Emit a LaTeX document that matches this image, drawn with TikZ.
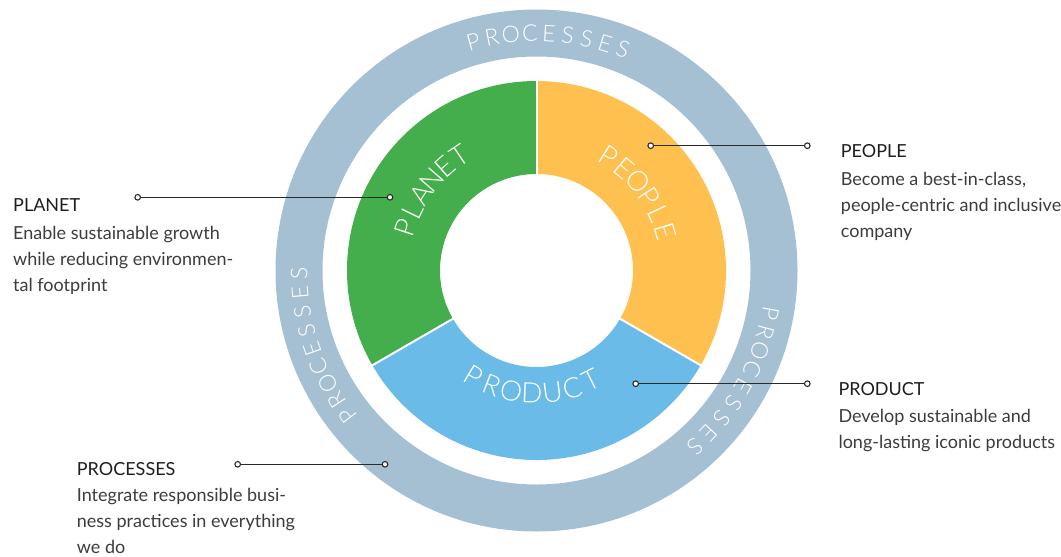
\documentclass[tikz,border=0pt]{standalone}
\usepackage{fontspec}
\setmainfont{Lato}
\IfFontExistsTF{Lato Light}{\newfontfamily\thinfont{Lato Light}}{\newfontfamily\thinfont{Lato}}

\definecolor{ringblue}{HTML}{A6C0D3}
\definecolor{planetgreen}{HTML}{43AE4B}
\definecolor{peopleyellow}{HTML}{FEC150}
\definecolor{productblue}{HTML}{6BBBE8}
\definecolor{headink}{HTML}{1E1E1E}
\definecolor{bodyink}{HTML}{3C3C3C}
\definecolor{lineink}{HTML}{2A2A2A}

% place the letters of a word one by one along a circle
% #1 name prefix, #2 letters, #3 number of letters, #4 centre angle,
% #5 angular step (positive: clockwise, tops outward; negative: counter-clockwise, tops inward),
% #6 radius, #7 node style
\newcommand\arcword[7]{%
  \foreach \ch [count=\i from 0] in {#2} {%
    \pgfmathsetmacro\ang{#4+((#3-1)/2-\i)*#5}%
    \pgfmathsetmacro\rot{\ang-90*sign(#5)}%
    \node[#7, rotate=\rot] (#1\i) at (\ang:#6) {\ch};
  }}

\begin{document}
\begin{tikzpicture}[x=1pt, y=-1pt,
  ringletter/.style={inner sep=0pt, text=white, font=\thinfont\fontsize{23}{23}\selectfont},
  segletter/.style={inner sep=0pt, text=white, font=\thinfont\fontsize{28}{28}\selectfont},
  head/.style={anchor=base west, inner sep=0pt, text=headink, font=\fontsize{18}{26}\selectfont},
  body/.style={anchor=base west, inner sep=0pt, align=left, text=bodyink, font=\fontsize{18}{26}\selectfont},
  dot/.style={circle, draw=lineink, fill=white, line width=1.1pt, minimum size=5.6pt, inner sep=0pt},
  conn/.style={draw=lineink, line width=1.2pt}]
\useasboundingbox (0,0) rectangle (1061,557);

\begin{scope}[shift={(536.5,270.5)}, y=1pt]
  % outer processes band
  \draw[ringblue, line width=47pt] (0,0) circle[radius=237.5];
  % three sectors of the inner donut
  \fill[planetgreen] (90:189.5) arc[start angle=90, end angle=210, radius=189.5]
    -- (210:96.5) arc[start angle=210, end angle=90, radius=96.5] -- cycle;
  \fill[productblue] (210:189.5) arc[start angle=210, end angle=330, radius=189.5]
    -- (330:96.5) arc[start angle=330, end angle=210, radius=96.5] -- cycle;
  \fill[peopleyellow] (330:189.5) arc[start angle=-30, end angle=90, radius=189.5]
    -- (90:96.5) arc[start angle=90, end angle=-30, radius=96.5] -- cycle;
  % thin white gaps between sectors
  \foreach \a in {90,210,330} \draw[white, line width=2pt] (\a:95) -- (\a:191);

  % sector labels
  \arcword{planetl}{P,L,A,N,E,T}{6}{142.8}{7.6}{138}{segletter}
  \arcword{peoplel}{P,E,O,P,L,E}{6}{37.2}{8.2}{135}{segletter}
  \arcword{productl}{P,R,O,D,U,C,T}{7}{267.8}{-9.6}{123}{segletter}

  % band labels
  \arcword{proctop}{P,R,O,C,E,S,S,E,S}{9}{87}{4.6}{237.5}{ringletter}
  \arcword{procleft}{P,R,O,C,E,S,S,E,S}{9}{199.2}{4.6}{237.5}{ringletter}
  \arcword{procright}{P,R,O,C,E,S,S,E,S}{9}{-29.2}{4.7}{237.5}{ringletter}
\end{scope}

% callout connectors
\node[dot] (planetout) at (137.7,197.3) {};
\node[dot] (planetin) at (390,197.3) {};
\draw[conn] (planetout) -- (planetin);

\node[dot] (peoplein) at (650.7,145.7) {};
\node[dot] (peopleout) at (807.3,145.7) {};
\draw[conn] (peoplein) -- (peopleout);

\node[dot] (productin) at (635.7,383.7) {};
\node[dot] (productout) at (807.3,383.7) {};
\draw[conn] (productin) -- (productout);

\node[dot] (processout) at (237.7,464.3) {};
\node[dot] (processin) at (385,464.3) {};
\draw[conn] (processout) -- (processin);

% descriptions (body blocks are anchored on the baseline of their last line)
\node[head] (planethead) at (13,211) {PLANET};
\node[body] (planettext) at (13,291) {Enable sustainable growth\\while reducing environmen-\\tal footprint};

\node[head] (peoplehead) at (840.7,157.3) {PEOPLE};
\node[body] (peopletext) at (840.7,237) {Become a best-in-class,\\people-centric and inclusive\\company};

\node[head] (producthead) at (838.3,395) {PRODUCT};
\node[body] (producttext) at (838.3,448.3) {Develop sustainable and\\long-lasting iconic products};

\node[head] (processhead) at (76.7,475) {PROCESSES};
\node[body] (processtext) at (76.7,553.5) {Integrate responsible busi-\\ness practices in everything\\we do};
\end{tikzpicture}
\end{document}
